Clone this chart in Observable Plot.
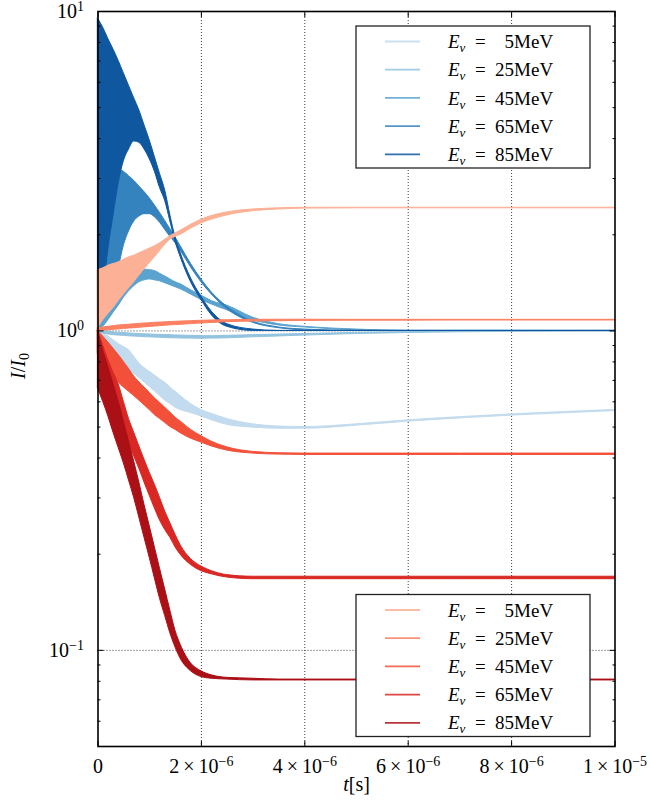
<!DOCTYPE html>
<html>
<head>
<meta charset="utf-8">
<script src="https://cdn.jsdelivr.net/npm/d3@7"></script>
<script src="https://cdn.jsdelivr.net/npm/@observablehq/plot@0.6"></script>
<style>
  body { margin: 0; background: #fff; }
  svg text { white-space: pre; }
</style>
</head>
<body>
<script>
// Sampling times (microseconds) shared by every envelope below
const tMicro = [0, 0.1, 0.2, 0.3, 0.4, 0.5, 0.6, 0.7, 0.8, 0.9, 1.0, 1.1, 1.2, 1.3, 1.4, 1.5, 1.6, 1.8, 2.0, 2.2, 2.5, 3.0, 3.5, 4.0, 5.0, 6.0, 7.0, 8.0, 9.0, 10.0];

// Neutrino energies (MeV)
const energies = [5, 25, 45, 65, 85];

// Lower / upper envelopes of the fast oscillation of I/I0 — first group (blue)
const blue05Hi = [1.0, 0.985, 0.96, 0.935, 0.91, 0.89, 0.87, 0.83, 0.79, 0.765, 0.745, 0.725, 0.705, 0.688, 0.665, 0.645, 0.625, 0.59, 0.565, 0.55, 0.53, 0.51, 0.502, 0.5, 0.51, 0.525, 0.537, 0.548, 0.557, 0.566];
const blue05Lo = [1.0, 0.94, 0.9, 0.85, 0.81, 0.78, 0.755, 0.735, 0.712, 0.69, 0.668, 0.647, 0.625, 0.605, 0.59, 0.575, 0.565, 0.553, 0.54, 0.525, 0.508, 0.498, 0.494, 0.494, 0.505, 0.52, 0.532, 0.543, 0.552, 0.561];
const blue25Hi = [1.0, 0.997, 0.995, 0.99, 0.987, 0.985, 0.982, 0.98, 0.978, 0.976, 0.975, 0.973, 0.972, 0.971, 0.97, 0.968, 0.967, 0.965, 0.963, 0.963, 0.965, 0.97, 0.974, 0.978, 0.986, 0.992, 0.995, 0.997, 0.998, 0.999];
const blue25Lo = [0.99, 0.982, 0.975, 0.97, 0.967, 0.965, 0.962, 0.96, 0.958, 0.956, 0.955, 0.953, 0.952, 0.95, 0.949, 0.948, 0.947, 0.946, 0.945, 0.946, 0.948, 0.955, 0.961, 0.967, 0.978, 0.985, 0.99, 0.993, 0.995, 0.996];
const blue45Hi = [1.0, 1.1, 1.2, 1.3, 1.38, 1.45, 1.5, 1.53, 1.55, 1.555, 1.55, 1.54, 1.51, 1.48, 1.45, 1.42, 1.4, 1.34, 1.29, 1.24, 1.2, 1.1, 1.05, 1.03, 1.01, 1.0, 1.0, 1.0, 1.0, 1.0];
const blue45Lo = [1.0, 1.03, 1.08, 1.14, 1.2, 1.27, 1.33, 1.38, 1.42, 1.44, 1.45, 1.44, 1.43, 1.41, 1.39, 1.37, 1.35, 1.3, 1.25, 1.21, 1.16, 1.08, 1.04, 1.025, 1.005, 1.0, 1.0, 1.0, 1.0, 1.0];
const blue65Hi = [1.0, 1.6, 2.2, 2.8, 3.2, 3.15, 3.05, 2.95, 2.83, 2.72, 2.6, 2.47, 2.34, 2.21, 2.08, 1.96, 1.84, 1.62, 1.45, 1.32, 1.19, 1.07, 1.025, 1.01, 1.0, 1.0, 1.0, 1.0, 1.0, 1.0];
const blue65Lo = [1.0, 1.2, 1.35, 1.47, 1.58, 1.85, 2.05, 2.2, 2.28, 2.32, 2.32, 2.27, 2.18, 2.07, 1.97, 1.88, 1.78, 1.58, 1.42, 1.3, 1.17, 1.06, 1.02, 1.005, 1.0, 1.0, 1.0, 1.0, 1.0, 1.0];
const blue85Hi = [9.5, 8.9, 8.2, 7.6, 7.0, 6.4, 5.85, 5.35, 4.9, 4.4, 3.95, 3.5, 3.1, 2.75, 2.3, 1.96, 1.75, 1.46, 1.28, 1.15, 1.05, 1.01, 1.0, 1.0, 1.0, 1.0, 1.0, 1.0, 1.0, 1.0];
const blue85Lo = [1.0, 1.3, 1.8, 2.3, 2.9, 3.4, 3.7, 3.92, 3.88, 3.7, 3.45, 3.15, 2.8, 2.55, 2.2, 1.9, 1.7, 1.42, 1.25, 1.12, 1.03, 1.0, 1.0, 1.0, 1.0, 1.0, 1.0, 1.0, 1.0, 1.0];

// Second group (red)
const red05Hi = [1.55, 1.57, 1.6, 1.62, 1.64, 1.67, 1.7, 1.72, 1.75, 1.78, 1.81, 1.84, 1.88, 1.93, 1.98, 2.02, 2.06, 2.15, 2.23, 2.29, 2.35, 2.4, 2.42, 2.43, 2.43, 2.43, 2.43, 2.43, 2.43, 2.43];
const red05Lo = [1.02, 1.08, 1.13, 1.18, 1.24, 1.3, 1.36, 1.42, 1.49, 1.56, 1.63, 1.7, 1.78, 1.86, 1.93, 1.97, 2.0, 2.09, 2.17, 2.23, 2.3, 2.37, 2.4, 2.415, 2.42, 2.42, 2.42, 2.42, 2.42, 2.42];
const red25Hi = [1.02, 1.025, 1.03, 1.035, 1.04, 1.043, 1.046, 1.049, 1.052, 1.055, 1.057, 1.06, 1.062, 1.064, 1.066, 1.068, 1.07, 1.073, 1.076, 1.078, 1.08, 1.083, 1.084, 1.084, 1.083, 1.083, 1.083, 1.083, 1.083, 1.083];
const red25Lo = [1.0, 1.002, 1.005, 1.008, 1.011, 1.014, 1.017, 1.02, 1.023, 1.026, 1.029, 1.032, 1.035, 1.038, 1.041, 1.043, 1.045, 1.05, 1.055, 1.059, 1.065, 1.07, 1.073, 1.075, 1.077, 1.077, 1.078, 1.078, 1.078, 1.078];
const red45Hi = [1.0, 0.96, 0.92, 0.88, 0.84, 0.8, 0.76, 0.72, 0.69, 0.665, 0.64, 0.615, 0.595, 0.575, 0.555, 0.535, 0.52, 0.49, 0.468, 0.45, 0.432, 0.418, 0.414, 0.413, 0.413, 0.413, 0.413, 0.413, 0.413, 0.413];
const red45Lo = [0.85, 0.8, 0.76, 0.72, 0.69, 0.665, 0.645, 0.625, 0.605, 0.585, 0.565, 0.545, 0.53, 0.515, 0.5, 0.49, 0.478, 0.46, 0.447, 0.435, 0.422, 0.413, 0.41, 0.409, 0.409, 0.409, 0.409, 0.409, 0.409, 0.409];
const red65Hi = [1.0, 0.9, 0.81, 0.74, 0.68, 0.6, 0.53, 0.48, 0.435, 0.395, 0.36, 0.33, 0.3, 0.272, 0.25, 0.23, 0.213, 0.193, 0.183, 0.177, 0.172, 0.17, 0.17, 0.17, 0.17, 0.17, 0.17, 0.17, 0.17, 0.17];
const red65Lo = [0.84, 0.76, 0.68, 0.61, 0.545, 0.49, 0.445, 0.405, 0.37, 0.335, 0.305, 0.278, 0.255, 0.238, 0.225, 0.21, 0.199, 0.185, 0.177, 0.173, 0.169, 0.167, 0.167, 0.167, 0.167, 0.167, 0.167, 0.167, 0.167, 0.167];
const red85Hi = [1.0, 0.87, 0.77, 0.68, 0.6, 0.52, 0.45, 0.39, 0.335, 0.285, 0.245, 0.21, 0.18, 0.155, 0.133, 0.115, 0.104, 0.091, 0.086, 0.0835, 0.082, 0.0815, 0.081, 0.081, 0.081, 0.081, 0.081, 0.081, 0.081, 0.081];
const red85Lo = [0.66, 0.6, 0.54, 0.48, 0.43, 0.385, 0.34, 0.3, 0.26, 0.225, 0.195, 0.168, 0.145, 0.128, 0.113, 0.102, 0.094, 0.086, 0.0825, 0.0815, 0.081, 0.0805, 0.0805, 0.0805, 0.0805, 0.0805, 0.0805, 0.0805, 0.0805, 0.0805];

// Axis ticks
const xTicks = [0, 2e-6, 4e-6, 6e-6, 8e-6, 1e-5];
const xGrid = [2e-6, 4e-6, 6e-6, 8e-6];
const yMajor = [0.1, 1, 10];
const yGrid = [0.1, 1];
const yMinor = [0.06, 0.07, 0.08, 0.09, 0.2, 0.3, 0.4, 0.5, 0.6, 0.7, 0.8, 0.9, 2, 3, 4, 5, 6, 7, 8, 9];

// Colour ramps for the two groups
const bluePos = [0.25, 0.4, 0.55, 0.68, 0.85];
const redPos = [0.28, 0.43, 0.57, 0.7, 0.85];

const blueSeries = [
  {lo: blue05Lo, hi: blue05Hi}, {lo: blue25Lo, hi: blue25Hi}, {lo: blue45Lo, hi: blue45Hi},
  {lo: blue65Lo, hi: blue65Hi}, {lo: blue85Lo, hi: blue85Hi}
].map((s, i) => ({...s, energy: energies[i], color: d3.interpolateBlues(bluePos[i])}));
const redSeries = [
  {lo: red05Lo, hi: red05Hi}, {lo: red25Lo, hi: red25Hi}, {lo: red45Lo, hi: red45Hi},
  {lo: red65Lo, hi: red65Hi}, {lo: red85Lo, hi: red85Hi}
].map((s, i) => ({...s, energy: energies[i], color: d3.interpolateReds(redPos[i])}));

const rowsOf = (s) => tMicro.map((t, i) => ({t: t * 1e-6, lo: s.lo[i], hi: s.hi[i]}));
const band = (s) => Plot.areaY(rowsOf(s), {
  x: "t", y1: "lo", y2: "hi", fill: s.color, stroke: s.color, strokeWidth: 1, curve: "monotone-x"
});

const fmtX = (d) => {
  if (d === 0) return "0";
  const e = Math.floor(Math.log10(d) + 1e-9);
  const m = Math.round(d / Math.pow(10, e));
  return `${m}\u2009×\u200910^${e}`;
};
const fmtY = (d) => `10^${Math.round(Math.log10(d))}`;

const FONT = "'Liberation Serif', 'Times New Roman', serif";
const SIZE = 20;
const tickStyle = {stroke: "#000", fill: "none", label: null};

const chart = Plot.plot({
  width: 650,
  height: 808,
  marginLeft: 97.5,
  marginRight: 35.5,
  marginTop: 11,
  marginBottom: 62,
  style: `font-family: ${FONT}; font-size: ${SIZE}px; color: #000; background: #fff;`,
  x: {type: "linear", domain: [0, 1e-5]},
  y: {type: "log", domain: [0.05, 10]},
  marks: [
    Plot.gridX(xGrid, {stroke: "#000", strokeOpacity: 0.85, strokeWidth: 0.9, strokeDasharray: "1,2"}),
    Plot.gridY(yGrid, {stroke: "#000", strokeOpacity: 0.85, strokeWidth: 0.9, strokeDasharray: "1,2"}),
    ...blueSeries.map(band),
    ...redSeries.map(band),
    // inward tick marks on all four sides
    Plot.axisX({anchor: "bottom", ticks: xTicks, tickSize: 5, dy: -5, ...tickStyle}),
    Plot.axisX({anchor: "top", ticks: xTicks, tickSize: 5, dy: 5, ...tickStyle}),
    Plot.axisY({anchor: "left", ticks: yMajor, tickSize: 6, dx: 6, ...tickStyle}),
    Plot.axisY({anchor: "left", ticks: yMinor, tickSize: 3, dx: 3, ...tickStyle}),
    Plot.axisY({anchor: "right", ticks: yMajor, tickSize: 6, dx: -6, ...tickStyle}),
    Plot.axisY({anchor: "right", ticks: yMinor, tickSize: 3, dx: -3, ...tickStyle}),
    // tick labels
    Plot.axisX({anchor: "bottom", ticks: xTicks, tickSize: 0, tickPadding: 12, tickFormat: fmtX, label: null}),
    Plot.axisY({anchor: "left", ticks: yMajor, tickSize: 0, tickPadding: 14, tickFormat: fmtY, label: null}),
    // axis titles
    Plot.text(["*t*[s]"], {frameAnchor: "bottom", dy: 44, text: (d) => d}),
    Plot.text(["*I*/*I*_0"], {frameAnchor: "left", dx: -79, rotate: -90, text: (d) => d}),
    Plot.frame({stroke: "#000", strokeWidth: 1.6})
  ]
});
document.body.appendChild(chart);

// Minimal math typesetting: *...* italic, ^run superscript, _run subscript
function typeset(el, src, size) {
  el.textContent = "";
  const small = Math.round(size * 0.7);
  let italic = false, i = 0, pending = 0;
  const add = (txt, opts = {}) => {
    const ts = document.createElementNS("http://www.w3.org/2000/svg", "tspan");
    ts.textContent = txt;
    if (italic) ts.setAttribute("font-style", "italic");
    let dy = pending;
    if (opts.shift) { dy += opts.shift; ts.setAttribute("font-size", small); pending = -opts.shift; }
    else pending = 0;
    if (dy) ts.setAttribute("dy", dy);
    el.appendChild(ts);
  };
  while (i < src.length) {
    const c = src[i];
    if (c === "*") { italic = !italic; i++; continue; }
    if (c === "^" || c === "_") {
      let j = i + 1;
      while (j < src.length && /[-−0-9A-Za-zν]/.test(src[j])) j++;
      add(src.slice(i + 1, j).replace("-", "−"), {shift: c === "^" ? -Math.round(size * 0.36) : Math.round(size * 0.22)});
      i = j; continue;
    }
    let j = i;
    while (j < src.length && !"*^_".includes(src[j])) j++;
    add(src.slice(i, j));
    i = j;
  }
}

const svg = d3.select(chart);
svg.selectAll("text").each(function () {
  const s = this.textContent;
  if (/[*^_]/.test(s)) typeset(this, s, SIZE);
});

// Legends (boxed, inside the plot area)
function legend(top, series) {
  const g = svg.append("g");
  g.append("rect")
    .attr("x", 356).attr("y", top).attr("width", 234).attr("height", 142)
    .attr("fill", "#fff").attr("stroke", "#222").attr("stroke-width", 1.3);
  series.forEach((s, i) => {
    const y = top + 15.5 + i * 28.2;
    g.append("line")
      .attr("x1", 385).attr("x2", 420).attr("y1", y).attr("y2", y)
      .attr("stroke", s.color).attr("stroke-width", 1.8).attr("stroke-opacity", 0.85);
    const label = `*E_ν*\u2002=\u2002${s.energy < 10 ? "\u2007" : ""}${s.energy}MeV`;
    const t = g.append("text")
      .attr("x", 448).attr("y", y).attr("dy", "0.35em")
      .attr("text-anchor", "start")
      .attr("font-family", FONT).attr("font-size", 19);
    typeset(t.node(), label, 19);
  });
}
legend(26, blueSeries);
legend(594.5, redSeries);
</script>
</body>
</html>
